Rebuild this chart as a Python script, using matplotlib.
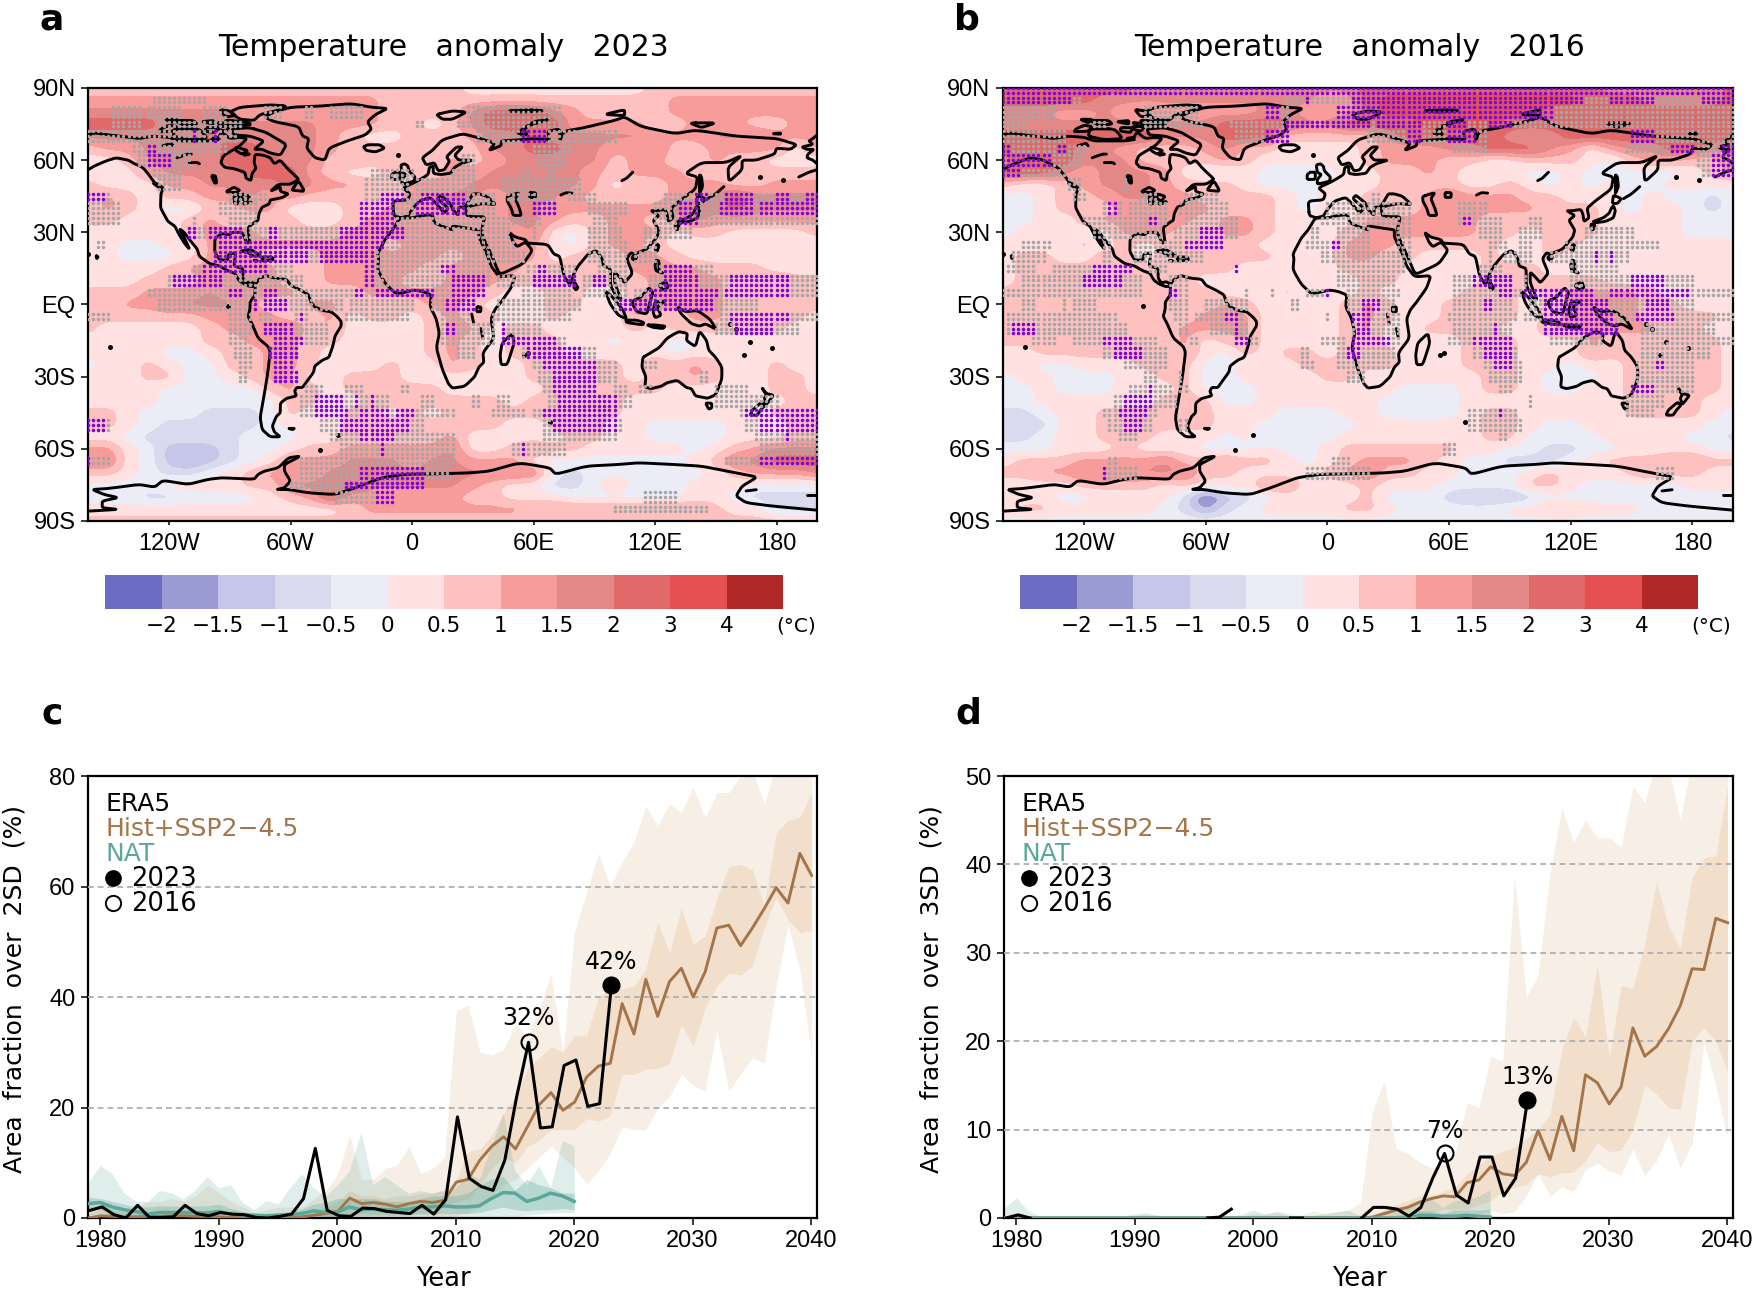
import numpy as np
import matplotlib
matplotlib.use("Agg")
import matplotlib.pyplot as plt

W, H = 1752, 1294
nan = float("nan")
SANS = ["Liberation Sans", "DejaVu Sans"]
WIDE = ["DejaVu Sans"]

# ---------- colour scale ----------
CB_COLORS = ["#6C6CC3", "#9B9BD4", "#C6C6E8", "#DADAEE", "#ECECF7", "#FFE1E1",
             "#FFC0C0", "#F79B9B", "#E48787", "#E26969", "#E65050", "#B22828"]
CB_LEVELS = [-2, -1.5, -1, -0.5, 0, 0.5, 1, 1.5, 2, 3, 4]
CB_LABELS = ["\u22122", "\u22121.5", "\u22121", "\u22120.5", "0", "0.5", "1", "1.5", "2", "3", "4"]
CODE_VALUES = dict(a=-2.3, b=-1.75, c=-1.25, d=-0.75, e=-0.22, f=0.2, g=0.7,
                   h=1.15, i=1.62, j=2.35, k=3.5, l=4.5)

# ---------- anomaly fields: classes read on a 10 deg lon x 5 deg lat grid, 90N to 90S ----------
A_WEST = ["ggggggggggggggggggg", "hhhhhhhhhhhhhhhgggg", "iiiiiiiihhhhhhhgggg", "jjjjiiiiiiiihhhggfg",
          "iiiiiijiiiiihgffggg", "ghhiiiijjiiihgggggg", "ffgiiiijjjiighggggh", "fffhiiiijjjhgffgggh",
          "gfffhhiiiijihhgghhh", "ghgfgghhihhggggghii", "ghgfeegghhfffgghhhi", "ggfffghggggffghhhhh",
          "fffffghhhgggghhhihh", "ffeeffhhhhhhhhhghhh", "ffeeefhhhggghihhhhg", "ffffghhhhhgghhhhhgh",
          "fffggghhhhgghhhhggh", "ggghhhihhhhggghhhhh", "gghhiiiihgghhgggghh", "gggggghhhhgghfggfgh",
          "gfffffghhhighffffgh", "ffffffgghhhggffffgh", "ffffeefgghhgfffffgh", "effgfeegghhgfffgffh",
          "fffggeefghhffgggfff", "ffffeeeeeghgfgggggf", "ffffeeeeeeggffggggg", "ggfeeedddegffggfgfg",
          "ggfedddddefffgggggg", "ffedddddeeeffgggggh", "hhfecccdeefgghhhhhi", "iifecbcdefhhhiiihii",
          "ggfeddefghhhiiiiiii", "eeeeffffggiiijiiiii", "eeeddeeeefghjhhhhhh", "fffffffffffffghhhhh",
          "ggggggggggggggggggg"]
A_EAST = ["gfffffffffggggggggg", "ggggggggggghhhhhhhh", "hijjjihgggghhhhhhhh", "hijjkjhhhhgghhhgghi",
          "hhiijiiiiihhhiiihhh", "ggiijjiihhigghhhhfh", "gghiiiiighhgghggfff", "hhiiiiihghhhggggggg",
          "iiiiiiihfgghhhgghhh", "iihiiihgggghhijiiii", "hhhiihhhhhhijijiiii", "hhhiihgghhghihhhhhh",
          "ghihifeghhhfggffffg", "hhhhhfeghhgffffffff", "hhhhhfggghhgfffffff", "hhihggggghhhhgggfff",
          "hhhggggggghhhhgghgg", "hhgffggffghhhhggggg", "hgfffggffhhhhhggggg", "hggffgfffhgghhggggf",
          "hhfggffffgfggggggff", "hgfgggffeffeeffffff", "hgfgggfffffefffffff", "ggffgggggfhghgffgff",
          "ffffgggggfgghgffggf", "fffffggggggfffffggf", "gggfgggggffffffgfgg", "gggggggggfffffffggg",
          "fggffgggffeeeefffgg", "ffffffggffeeeefffgg", "fffghggfffffefghiii", "hhhhfeeeeeeefgiijjj",
          "iiiiiedeeeeeefghhhi", "hhgffddegeeefffeeee", "gggfffeeeeeeffedddd", "hhhhhhhhhhhhhgffddd",
          "ggggggggggggggggggg"]
B_WEST = ["jjjjjjjiiiiiiiiiiij", "jjjjjiiiiiiiiiiihhj", "iiihhihghhhhhiihhhj", "iiiiiiiiiiijjjjiijj",
          "jjjjjjjjiiijjjggggg", "jjjjiihggghiggffffg", "ijjjiiiggggh" + "gfffffg", "jjjihiiihfeefedeeff",
          "gffghiiihgggfeeefff", "eefgghiihhggggfeffg", "eefggghhhhhgggfeffg", "eeffghhhhhghhgffffh",
          "efffffhhhgghhgfffgh", "ffffgfgfgggggffffhh", "fggffggfggggggfffhh", "fgggghggggggfffffgg",
          "fggggghgggffffffffg", "gggggggggggfffgfffg", "ggggggggghghgffffgh", "gggggggggghhhffffgh",
          "ggggggggghhhhffffgh", "ggggggggghfghffffgh", "ffggggggghfegfggfgg", "ffeefffgggeefffgggg",
          "effeeeffggeeffffggf", "eefeeefffgeeeffffff", "eeffffffgggeeffffff", "ddeffggggggfffeeeff",
          "dddffggggggffeeeeef", "ddeffgggfffefdeeeff", "eeefffgfffeeefeefgg", "fggghhhhigghggfefgh",
          "gghhiiiiiiggffffghi", "ffffggggfgfffhhfffg", "fffeeffffdacdeffffg", "fggfffffedbdeffffgg",
          "eeeeeeeeeeeeeeeeeee"]
B_EAST = ["jjjjjjjjjjjjiiiiiij", "kkkkkkkkkkkjjjiiiij", "kkkkkkkkkjjjjjjjjjj", "jjjkkkkjjjjjjjjjjjj",
          "iijjjjjihijjjjjjjjj", "ghhhiijjjihfhiijjii", "hhhhggffgggfeghhggi", "hgghgfffeefeeeeefgh",
          "gggggffgfefefeeffff", "ggghihhhggfffefeede", "ggghhhhhhgggfeffede", "hhhhihggggggffffeee",
          "hhhhhhggfgggffffeee", "hhgggggffggffffffff", "hggfffgffgfffffffff", "ghffffgggffffffffff",
          "hgffffghggggfffffff", "hffffgggfghhhhgffff", "hgffggggfghhhhggfff", "igffggggfghhhhggggf",
          "gffggggffhhhhhhggff", "hffffgggfffhggggggf", "igfffgggfffhggggggf", "hgfffgggffeffgggggf",
          "gfffffggfeeefgggggf", "ffeeefggfeeffgggggf", "feeeeffffffffggggff", "feeeefggfffffggggfe",
          "efffffggfeeffffffee", "efffffggeeeeffffeed", "gggggffeeddeeffffee", "hhhgfeedddefggghhgg",
          "gggffeeefgfffghggff", "ffffeeeeggfeeeeefff", "feeedcccdeeeeedeeee", "gfeeeeeffggfffeeeee",
          "eeeeeeeeeeeeeeeeeee"]

# ---------- stippling: (latitude band centre, lon from, lon to) ----------
GREY_A = [(85,-129,-101),
 (80,-148,-134),(80,-130,-114),(80,-104,-92),(80,-74,-64),(80,-53,-49),(80,-40,-23),(80,27,74),
 (75,-148,-135),(75,-125,-83),(75,1,5),(75,22,74),
 (70,-160,-86),(70,32,100),(65,-139,-91),(65,58,78),
 (60,-135,-109),(60,25,31),(60,61,76),(55,-129,-115),(55,-20,0),(55,20,30),(55,53,58),(55,66,71),
 (50,-125,-115),(50,-23,-2),(50,1,32),(50,45,83),
 (45,-160,-148),(45,-92,-71),(45,-23,41),(45,46,70),(45,76,90),(45,125,200),
 (40,-160,-143),(40,-96,-76),(40,-23,41),(40,59,71),(40,76,77),(40,87,107),(40,119,200),
 (35,-160,-143),(35,-108,-106),(35,-92,-76),(35,-25,63),(35,89,102),(35,119,200),
 (30,-110,48),(30,60,61),(30,86,104),(30,115,139),
 (25,-155,-152),(25,-97,50),(25,86,106),(25,114,122),
 (20,-99,56),(20,86,106),(20,110,122),
 (15,-109,-58),(15,-23,38),(15,56,82),(15,92,107),(15,122,148),
 (10,-122,-55),(10,-23,38),(10,41,81),(10,84,107),(10,117,200),
 (5,-130,36),(5,55,78),(5,84,106),(5,109,200),
 (0,-125,-81),(0,-74,-35),(0,-30,0),(0,10,30),(0,41,83),(0,100,170),
 (-5,-160,-148),(-5,-92,-78),(-5,-76,-70),(-5,-58,-52),(-5,-33,-2),(-5,13,28),(-5,40,78),(-5,152,200),
 (-10,-92,-79),(-10,-73,-41),(-10,13,41),(-10,43,63),(-10,150,190),
 (-15,-92,-81),(-15,-68,-55),(-15,-53,-41),(-15,15,41),(-15,43,76),
 (-20,-89,-78),(-20,-70,-56),(-20,22,32),(-20,55,90),
 (-25,-87,-79),(-25,-69,-58),(-25,60,102),(-25,115,122),
 (-30,-86,-81),(-30,-68,-56),(-30,61,102),(-30,142,145),
 (-35,-53,-45),(-35,-33,-23),(-35,-7,-2),(-35,63,90),(-35,100,107),(-35,112,119),(-35,150,166),
 (-40,-55,-35),(-40,-33,-12),(-40,5,11),(-40,28,33),(-40,41,48),(-40,66,109),(-40,150,180),
 (-45,-55,20),(-45,40,56),(-45,58,102),(-45,162,200),
 (-50,-160,-150),(-50,-45,5),(-50,64,104),(-50,165,200),
 (-55,-41,20),(-55,64,100),(-55,168,200),
 (-60,-35,20),(-60,48,76),(-60,171,200),
 (-65,-160,-148),(-65,-56,20),(-65,155,200),
 (-70,-55,18),(-75,-60,5),(-80,-38,-15),(-80,114,132),(-85,100,145)]
PURPLE_A = [(70,-108,-106),(70,-98,-96),(70,55,66),(65,-131,-126),(60,-132,-120),
 (45,-160,-152),(45,-17,-4),(45,3,27),(45,140,147),(45,153,168),(45,178,186),(45,193,200),
 (40,-25,-9),(40,1,27),(40,59,71),(40,132,142),(40,152,168),(40,171,200),
 (35,-25,-10),(35,132,140),
 (30,-110,-107),(30,-101,-84),(30,-72,-66),(30,-35,-5),
 (25,-97,-13),(20,-98,-52),(20,-46,-18),(15,-104,-71),(15,-23,-18),(15,13,20),(15,61,65),(15,125,139),
 (10,-119,-94),(10,-23,-19),(10,20,35),(10,60,80),(10,90,95),(10,125,140),(10,157,185),
 (5,-90,-83),(5,-74,-66),(5,-28,-25),(5,-18,11),(5,20,35),(5,117,150),(5,153,185),
 (0,-79,-77),(0,-74,-61),(0,16,30),(0,102,122),(0,125,148),
 (-5,-56,-53),(-5,157,187),(-10,-73,-60),(-10,16,20),(-10,43,45),(-10,160,178),
 (-15,-68,-55),(-15,43,70),(-20,-70,-56),(-20,56,84),(-25,-69,-58),(-25,65,90),
 (-30,-68,-56),(-30,69,92),(-35,70,90),
 (-40,-48,-33),(-40,-28,-26),(-40,-21,-19),(-40,72,100),
 (-45,-48,-32),(-45,-27,-12),(-45,-8,0),(-45,63,100),(-45,165,200),
 (-50,-160,-152),(-50,-37,-2),(-50,68,100),(-50,172,200),(-55,-25,-8),(-55,183,187),
 (-60,-17,-14),(-60,55,56),(-65,-160,-158),(-65,171,200),
 (-70,-25,5),(-75,-33,5),(-80,-18,-10)]
GREY_B = [(85,-160,-122),(85,-20,200),
 (80,-160,-134),(80,-91,-63),(80,-32,-18),(80,5,200),
 (75,-160,-150),(75,-115,-110),(75,-91,-61),(75,-48,200),
 (70,-160,-130),(70,-45,-18),(70,20,79),(70,148,200),
 (65,-160,-120),(65,61,79),(65,147,200),(60,-160,-122),(60,181,200),(55,-160,-129),(55,185,200),
 (50,-129,-122),(50,-102,-99),(45,-125,-120),(45,-94,-83),(45,-71,-55),(45,22,26),
 (40,-112,-102),(40,-99,-78),(40,-73,-48),(40,0,40),(40,64,79),
 (35,-120,-79),(35,-71,-45),(35,-4,40),(35,63,86),(35,99,107),
 (30,-115,-81),(30,-76,-43),(30,-9,-3),(30,5,20),(30,33,41),(30,74,87),(30,94,106),(30,127,152),
 (25,-150,-137),(25,-112,-106),(25,-97,-51),(25,-12,20),(25,35,41),(25,79,89),(25,94,102),(25,117,163),
 (20,-157,-140),(20,-112,-107),(20,-96,-61),(20,-4,20),(20,20,40),(20,78,80),(20,86,102),(20,109,148),
 (15,-158,-143),(15,-135,-100),(15,-89,-78),(15,5,38),(15,74,86),(15,119,143),
 (10,-150,-91),(10,-78,-70),(10,5,33),(10,61,92),(10,96,98),(10,119,180),
 (5,-160,-92),(5,-78,-68),(5,-41,-39),(5,-28,-26),(5,-10,-2),(5,10,35),(5,61,200),
 (0,-150,-143),(0,-132,-130),(0,-125,-115),(0,-79,-68),(0,-61,-38),(0,-18,-13),(0,10,33),(0,61,92),(0,100,165),(0,165,180),
 (-5,-158,-104),(-5,-76,-70),(-5,-66,-41),(-5,0,2),(-5,11,35),(-5,60,94),(-5,96,200),
 (-10,-158,-99),(-10,-73,-68),(-10,-58,-38),(-10,11,36),(-10,61,91),(-10,107,143),(-10,155,190),
 (-15,-147,-134),(-15,-127,-84),(-15,-69,-63),(-15,-46,-33),(-15,-4,9),(-15,11,36),(-15,60,92),(-15,110,135),(-15,155,200),
 (-20,-110,-79),(-20,-13,-8),(-20,5,18),(-20,20,33),(-20,71,94),(-20,153,188),
 (-25,-102,-78),(-25,-13,-7),(-25,5,18),(-25,20,30),(-25,76,96),(-25,152,181),
 (-30,-92,-83),(-30,-73,-71),(-30,8,18),(-30,79,97),(-30,152,181),
 (-35,-99,-76),(-35,-73,-70),(-35,84,92),(-35,150,181),
 (-40,-107,-74),(-40,147,166),(-40,99,100),(-45,-111,-84),(-45,69,94),(-45,147,160),
 (-50,-109,-86),(-50,-73,-68),(-50,69,96),(-55,-104,-93),(-55,85,88),
 (-60,57,63),(-65,-109,-103),(-65,1,10),(-70,-112,-94),(-70,-12,20),(-70,161,170)]
PURPLE_B = [(90,-160,200),(85,-160,-127),(85,-12,-8),(85,12,20),(85,20,127),(85,139,160),(85,185,200),
 (80,-32,-24),(80,5,110),(75,-22,20),(75,23,45),(75,58,68),(75,78,90),
 (70,-30,-18),(70,40,45),(70,58,73),(70,150,160),(65,-160,-157),(65,-134,-130),(65,170,181),(65,195,200),
 (60,-160,-137),(60,190,200),(55,-160,-152),(55,188,200),
 (40,-108,-104),(35,-89,-83),(35,66,70),(30,-63,-51),(25,-70,-51),(25,2,5),(20,132,134),(20,138,141),
 (15,-115,-97),(15,-45,-43),(10,-120,-102),(10,71,91),(10,148,166),(5,-78,-74),(5,0,2),(5,84,91),(5,96,132),(5,139,178),
 (0,16,25),(0,76,82),(0,106,138),(0,157,168),
 (-5,-50,-45),(-5,12,20),(-5,106,142),(-5,152,171),
 (-10,-157,-144),(-10,-46,-44),(-10,15,20),(-10,82,84),(-10,107,143),
 (-15,-112,-96),(-15,-46,-40),(-15,12,20),(-15,22,30),(-15,71,91),(-20,-106,-91),(-20,8,16),(-20,76,92),
 (-25,82,90),(-25,161,165),(-35,-88,-86),(-35,150,160),(-40,-101,-86),(-45,-104,-89),(-45,85,87),(-50,-101,-91),(-70,-110,-108)]

# ---------- coastlines, lon/lat, map runs 160W to 200E ----------
N_AMERICA = [(-160,70.5),(-156.5,71.3),(-150,70.5),(-141,69.7),(-135,69),(-128,70),(-120,69.5),(-115,68),(-108,68),(-100,68),(-96,68.5),(-94,71.8),(-90,69),(-85,69.5),(-81.5,69),(-85,66),(-87,65),(-93,62),(-94.5,59),(-92.5,57),(-88,56.5),(-82.5,55),(-82,52.5),(-79.5,51.5),(-79,54.5),(-77,56.5),(-78,59),(-77.5,62.5),(-73,62),(-70,61),(-68,58.5),(-65,60),(-61.5,56.5),(-57,53),(-56,52),(-60,50),(-66,50),(-70,47),(-65,49),(-65,47),(-61,46),(-64,44.5),(-66.5,44),(-70,43.5),(-70.5,41.8),(-74,40.5),(-75.5,38),(-76,35),(-78,34),(-81,32),(-80.5,28),(-80,26),(-81.5,25.5),(-82.7,28),(-84,30),(-89,30),(-90,29),(-94,29.5),(-97.3,27.5),(-97.5,22),(-95,18.5),(-91,18.5),(-90.5,21),(-87,21.5),(-88,16),(-83.5,15),(-83.5,11),(-82,9),(-79.5,9.5),(-77.5,8.5),(-78,7.5),(-80,7.5),(-83,8.5),(-85.5,10),(-87.5,13),(-91,14),(-95,16),(-100,17),(-105,20),(-106,23),(-109,26),(-112.5,30),(-114.8,31.5),(-112,27),(-109.8,23),(-112,25),(-115,29),(-117,32.5),(-120.5,34.5),(-122.5,37.5),(-124.2,40.3),(-124,46),(-122.7,48.5),(-127,50.5),(-130,54),(-133,57),(-137,58.5),(-140,60),(-146,61),(-150,60),(-153,59),(-157,57.5),(-160,56)]
ALASKA_W = [(200,70.5),(198,69),(196,68),(198,66.5),(192.5,65.5),(195,64.5),(198.5,64.5),(195.5,62.5),(195,61),(198,60),(200,58.5)]
ALASKA_PEN = [(200,56),(196,55),(191,53)]
GREENLAND = [(-73,78),(-68,80),(-60,82),(-45,82.5),(-30,83.5),(-20,82),(-12,81.5),(-18,79),(-22,76),(-20,73),(-23,70.5),(-32,68),(-41,65),(-43,60),(-48,61),(-52,65),(-51,69),(-54,70),(-56,74),(-68,76),(-73,78)]
BAFFIN = [(-80,73.5),(-72,71.5),(-68,69.5),(-62,66.5),(-65,62),(-70,63),(-74,64.5),(-78,64.5),(-73,68),(-80,70),(-88,70.5),(-89,73),(-80,73.5)]
VICTORIA = [(-105,73),(-117,73),(-118,70),(-110,68.5),(-101,69),(-105,73)]
BANKS = [(-120,74.5),(-124,73),(-125,71.8),(-118,72),(-116,74),(-120,74.5)]
ELLESMERE = [(-62,82.5),(-70,83),(-85,82),(-90,80),(-85,77),(-78,76.5),(-75,79),(-65,81),(-62,82.5)]
DEVON = [(-92,76.8),(-80,75.5),(-80,74.5),(-92,74.5),(-92,76.8)]
AXEL = [(-95,81),(-90,80.5),(-87,78.5),(-92,78),(-95,81)]
MELVILLE = [(-117,76.5),(-108,76.5),(-106,75),(-113,74.5),(-117,76.5)]
PRINCE = [(-102,73.5),(-96,73.5),(-97,71.5),(-102,72),(-102,73.5)]
SOMERSET = [(-96,74),(-90,74),(-92,72),(-96,73),(-96,74)]
KING_WILLIAM = [(-99,69),(-96,69.5),(-95,68.5),(-98,68.5),(-99,69)]
PATRICK = [(-122,77),(-116,77),(-118,75.5),(-122,77)]
BATHURST = [(-104,76),(-98,76.5),(-98,75),(-104,76)]
CORNWALLIS = [(-96,75.5),(-93,75.5),(-94,74.8),(-96,75.5)]
COATS = [(-83,63),(-80,62.5),(-83,62),(-83,63)]
SOUTHAMPTON = [(-87,65.5),(-81,64),(-84,62.5),(-87,64),(-87,65.5)]
NEWFOUNDLAND = [(-59,48),(-56,51.5),(-53,47),(-59,47.5),(-59,48)]
VANCOUVER = [(-128,50.5),(-125,50),(-123.5,48.5),(-125,48.7),(-128,50.5)]
CUBA = [(-85,22),(-80,23),(-74.5,20.3),(-78,20),(-82,22),(-85,22)]
HISPANIOLA = [(-74,19.8),(-69,19.7),(-68.5,18.5),(-74,18),(-74,19.8)]
JAMAICA = [(-78,18.4),(-76.3,18.2),(-77,17.8),(-78,18.4)]
HAWAII = [(-156,20.3),(-155,19.8),(-155.7,19),(-156,20.3)]
S_AMERICA = [(-77.5,8.5),(-75,11),(-72,12),(-68,11),(-62,10.5),(-60,8),(-55,6),(-51,4),(-50,1),(-48,-1),(-44,-2.5),(-40,-3),(-37,-5),(-35,-7),(-35,-9),(-38,-13),(-39,-17),(-41,-22),(-44,-23),(-48,-25.5),(-48.5,-28),(-52,-32),(-54,-34.5),(-57,-34.5),(-58,-36),(-57,-38),(-62,-39),(-65,-41),(-65,-45),(-67,-46.5),(-69,-50.5),(-68,-53),(-65,-55),(-70,-55),(-74,-52),(-75,-47),(-73.5,-40),(-71.5,-30),(-70,-20),(-71,-17.5),(-76,-14),(-79,-8),(-81,-5),(-80,-2),(-80,1),(-77.5,4),(-77.5,8.5)]
AFRICA = [(-6,36),(0,36),(5,37),(10,37.3),(11,34),(15,32.5),(20,31),(20,32.7),(25,32),(31,31.3),(33,31),(33,28),(37,21),(39,16),(43,11.5),(51,12),(49,7),(44,1),(41,-2),(39,-6),(40.5,-14),(35,-20),(35.5,-24),(33,-26),(31,-30),(26,-34),(20,-34.8),(18,-33),(15,-27),(12,-18),(13.5,-12),(12,-6),(9,-1),(9.5,4),(5,5.5),(1,6),(-4,5),(-8,4.5),(-13,8.5),(-17,14.5),(-16.5,19),(-17,21),(-13,27.5),(-9.5,31),(-6,36)]
MADAGASCAR = [(49.5,-12),(50.5,-16),(47,-25),(44,-25),(43.5,-21),(44.5,-16),(49.5,-12)]
EURASIA = [(-9,37),(-9.5,43),(-2,43.5),(-1,46),(-4.5,48.5),(2,51),(8,54),(8.5,57),(10.5,57.5),(10.5,54.5),(14,54),(19,54.5),(21,57),(24,58.5),(30,60),(23,60),(21,62),(25,65.5),(22,65.5),(17,61.5),(18.5,59.5),(16,56),(13,55.5),(11,59),(7,58),(5,61),(10,64),(15,68.5),(25,71),(32,69.5),(41,67),(38,64),(44,66),(44,68),(54,68.5),(60,69),(68,68.5),(67,72),(73,73),(73,68),(75,72),(85,73.5),(100,76.5),(105,78),(113,74),(130,71),(140,72.5),(160,70),(170,69.5),(180,69),(190,66.5),(187,64.5),(180,65),(179,62.5),(170,60),(163,60),(163,56),(156.5,51),(156,57),(163,62),(155,59),(143,59),(135,54.5),(141,53),(140,48),(132,43),(128,40),(129,36),(126.5,34.5),(126,37.5),(125,39.5),(121,39),(118,39),(122,37),(119,35),(122,31),(121,28),(116,23),(110,21),(108,21.5),(106,19),(109,13),(105,9),(103,11),(100,13.5),(100,9),(103.5,2),(101,3),(98,8),(98,15),(94.5,16),(94,19),(91,22.5),(87,21),(82,16),(80,13),(78,8),(75,12),(73,20),(70,21),(67,25),(57,25.5),(56,27),(51,28),(48,30),(50,26),(52,24),(56,26),(59.5,22.5),(55,17),(45,13),(43,13),(39,21),(35,28),(34.5,31.5),(36,36.5),(30,36.5),(27,37),(26.5,40),(29,41),(35,42),(41.5,41.5),(37,45),(33,46),(30,46),(28,43),(26,40.5),(23,40.5),(23,37),(20,39.5),(19,42),(14,45.5),(12.5,44),(18,40),(16,38),(12,42),(9,44.5),(3.5,43),(0,39.5),(-2,36.8),(-5.5,36),(-9,37)]
UK = [(-5,50),(1,51.2),(1.5,53),(-1.5,55.5),(-2,57.5),(-3.5,58.5),(-5.5,58),(-5,55),(-3,54),(-5,52),(-5,50)]
IRELAND = [(-10,52),(-6,52),(-6,55),(-8.5,55),(-10,54),(-10,52)]
ICELAND = [(-24,65.5),(-22,66.4),(-16,66.4),(-13.5,65),(-18,63.4),(-22.5,64),(-24,65.5)]
SVALBARD = [(12,79),(20,80.5),(27,80),(20,77),(15,77),(12,79)]
FRANZ_JOSEF = [(47,80.5),(60,81),(65,80.5),(55,80),(47,80.5)]
NOVAYA = [(52,71),(56,74),(68,77),(60,76),(55,72.5),(57,70.5),(52,71)]
SEVERNAYA = [(95,79),(105,81),(105,78.5),(95,79)]
NEW_SIBERIA = [(137,75.5),(150,75.5),(143,73.5),(137,75.5)]
WRANGEL = [(178,71),(182,71.3),(182,70.8),(178,71)]
SUMATRA = [(95.5,5.5),(98,4),(104,-2),(106,-6),(102,-4.5),(98,0),(95.5,5.5)]
JAVA = [(105.5,-6.5),(111,-6.5),(114.5,-7.5),(114,-8.5),(106,-7.5),(105.5,-6.5)]
BORNEO = [(109,1.5),(113,3),(117,7),(119,5),(117.5,1),(116,-4),(111,-3),(109,0),(109,1.5)]
SULAWESI = [(120,1),(125,1.5),(121,-1),(123,-4.5),(120,-5.5),(119,-3),(120,1)]
NEW_GUINEA = [(131,-1),(135,-3),(141,-2.5),(147,-6),(150.5,-10.5),(145,-8),(142,-9),(138,-8),(133,-4),(131,-1)]
LUZON = [(120.5,18.5),(122,18),(122,14),(124,13),(120.5,14),(120,16),(120.5,18.5)]
MINDANAO = [(122,8),(125.5,9.5),(126.5,7),(124,6),(122,8)]
SUNDA = [(116,-8.5),(120,-8.5),(125,-9),(124,-10),(119,-9.5),(116,-8.5)]
TAIWAN = [(121,25),(122,24.5),(121,22),(120,23),(121,25)]
HAINAN = [(109,20),(111,19.7),(110,18.3),(108.7,19),(109,20)]
CEYLON = [(80,9.5),(82,7),(81,6),(80,7),(80,9.5)]
HONSHU = [(141,41),(142,39),(141,36),(137,34.5),(132,34),(131,34.5),(136,36),(139,38),(140,40),(141,41)]
HOKKAIDO = [(141,45.5),(145,44),(143,42),(140.5,42),(141,45.5)]
KYUSHU = [(130,33.5),(132,33),(131,31),(130,31.5),(130,33.5)]
SAKHALIN = [(142,54),(143,53),(143.5,49),(142,46),(142,49),(142,54)]
KURILS = [(146,44),(150,46),(154,49)]
AUSTRALIA = [(114,-22),(117,-20.5),(122,-18),(126,-14),(130,-12),(132,-11.3),(136,-12),(135.5,-15),(140,-17.5),(142,-11),(145.5,-15),(146.5,-19),(150,-22),(153,-26),(153,-31),(150,-37.5),(146,-39),(143,-38.5),(140,-38),(138,-35),(135.5,-34.5),(131,-31.5),(126,-32.5),(123,-34),(118,-35),(115,-34.3),(115.5,-30),(113.5,-26),(114,-22)]
TASMANIA = [(145,-41),(148,-41),(148,-43),(146.5,-43.5),(145,-41)]
NZ_NORTH = [(172.7,-34.5),(175,-37),(178.5,-37.7),(176.5,-40),(175,-41.5),(174,-39),(175,-37.5),(172.7,-34.5)]
NZ_SOUTH = [(172.5,-40.7),(174.5,-41.7),(172,-44),(170.5,-46),(167,-46),(168,-44),(172.5,-40.7)]
FALKLANDS = [(-61,-51.5),(-58,-51.5),(-59,-52),(-61,-51.5)]
ANT_WEST = [(-160,-85.9),(-145,-85.2),(-153,-84.5),(-153,-81.7),(-145,-80.3),(-152,-79),(-158,-76.9),(-150,-76.5),(-135,-74.8),(-127,-75.9),(-123,-73.1),(-110.6,-74.8),(-100.7,-72.7),(-94,-72),(-78,-72.7),(-76,-70.6),(-73,-69.3),(-66,-67.9),(-61,-63.7),(-55,-63),(-63,-66.5),(-63,-69.3),(-60,-73.4),(-63,-76.2),(-67,-76.9),(-61,-76.9),(-51,-78.3),(-38,-79),(-28,-76.2),(-15,-72),(-3.6,-70.6),(20,-70.2)]
ANT_EAST = [(20,-70.2),(28,-70),(38,-69.3),(53,-65.8),(68,-67.9),(71,-70.6),(86,-67.2),(102,-66.5),(112,-65.8),(129,-66.5),(143,-67.2),(160,-70),(170.6,-71.7),(163,-75.5),(160,-79.6),(165,-82.4),(178,-83.8),(200,-85.5)]
ANT_BITS = [(195,-79),(200,-79)]
ROSS_IS = [(165,-77.5),(170,-77)]
COASTS = [N_AMERICA, ALASKA_W, ALASKA_PEN, GREENLAND, BAFFIN, VICTORIA, BANKS, ELLESMERE, DEVON, AXEL, MELVILLE,
          PRINCE, SOMERSET, KING_WILLIAM, PATRICK, BATHURST, CORNWALLIS, COATS, SOUTHAMPTON, NEWFOUNDLAND, VANCOUVER,
          CUBA, HISPANIOLA, JAMAICA, HAWAII, S_AMERICA, AFRICA,
          MADAGASCAR, EURASIA, UK, IRELAND, ICELAND, SVALBARD, FRANZ_JOSEF, NOVAYA, SEVERNAYA, NEW_SIBERIA, WRANGEL,
          SUMATRA, JAVA, BORNEO, SULAWESI, NEW_GUINEA, LUZON, MINDANAO, SUNDA, TAIWAN, HAINAN, CEYLON, HONSHU,
          HOKKAIDO, KYUSHU, SAKHALIN, KURILS, AUSTRALIA, TASMANIA, NZ_NORTH, NZ_SOUTH, FALKLANDS, ANT_WEST, ANT_EAST,
          ANT_BITS, ROSS_IS]
L_SUPERIOR = [(-92,46.8),(-88,48.8),(-85,47.5),(-87,46.5),(-92,46.8)]
L_MICHIGAN = [(-87.5,41.7),(-88,45),(-85,46),(-86,42),(-87.5,41.7)]
L_HURON = [(-84,46),(-80,45),(-82,43),(-84,44),(-84,46)]
L_ERIE = [(-83,41.7),(-79,42.8),(-83,42.3),(-83,41.7)]
L_WINNIPEG = [(-99,53.5),(-97,53.5),(-96.5,50.5),(-97.5,50.5),(-99,53.5)]
L_ATHABASCA = [(-110,59),(-106,59),(-105,58.5)]
L_SLAVE = [(-116,61),(-111,62.5),(-109,62.5)]
L_BEAR = [(-123,66),(-119,67),(-118,66)]
CASPIAN = [(47,45),(53,46.5),(51,44),(53,40),(54,37),(50,37),(49,40),(47,43),(47,45)]
ARAL = [(58,46.5),(61,46.5),(61,44.5),(58,44.5),(58,46.5)]
BALKHASH = [(73.5,45.5),(76,46.5),(79,46.3)]
BAIKAL = [(103.7,51.5),(106,52.5),(109,55)]
L_VICTORIA = [(32,-1),(34,-1),(34,-3),(32,-3),(32,-1)]
L_MALAWI = [(34,-10),(35,-14)]
L_TANGANYIKA = [(29.5,-4),(30.5,-8)]
LAKES = [L_SUPERIOR, L_MICHIGAN, L_HURON, L_ERIE, L_WINNIPEG, L_ATHABASCA, L_SLAVE, L_BEAR, CASPIAN, ARAL, BALKHASH,
         BAIKAL, L_VICTORIA, L_MALAWI, L_TANGANYIKA]
SMALL_ISLANDS = [(-91,-0.7),(-149,-17.6),(-36.5,-54.4),(-45.6,-60.5),(68,-48.7),(55.4,-21),(57.5,-20),(164,-21),(178,-18),
                 (157,-8),(160,-10),(167,-15.5),(-7,62),(172,53),(183,51.6),(-160,21)]

# ---------- time series ----------
YEARS = np.arange(1979, 2041)
YEARS_NAT = np.arange(1979, 2021)
YEARS_ERA = np.arange(1979, 2024)
SHIFT_ERA, SHIFT_HIST, SHIFT_NAT = 0.15, 0.05, 0.0

ERA5_C = [1.4] + [2.0,.6,0,2.3,.1,.1,.2,2.3,.8,.4] + [1,.7,.6,.1,0,.3,.7,3.5,12.6,1.4] + \
         [.4,.3,1.8,1.7,1.2,1,.8,2.3,.7,3.3] + [18.3,7.2,5.7,5,10.5,22,31.8,16.3,16.5,27.6] + [28.6,20.2,20.7,42.2]
HIST_C = [0] + [.4,.3,.2,.2,.3,.3,.4,.4,.3,.3] + [.2,.1,.1,0,.1,.1,.1,.2,.5,.8] + \
         [1.2,3.6,2.6,2.8,2.5,2.0,2.6,3.0,2.8,3.2] + [6.5,7,10.5,13,14.7,12.5,16.5,20.5,22.7,19.5] + \
         [21,25.5,27.5,28,38.8,33.3,43.2,36.5,42.8,45.2] + [40,44.5,52.5,53,49.3,52.5,56,59.8,57,66] + [62]
HIST_C_HI = [2] + [2.5,2,1.5,2,3,3,3.5,3,4,6] + [4.5,3,2,1,1.5,2,2,2,3.5,5] + [8,15,7,7,9,9.5,13,8,9,11] + \
            [37.5,38.5,30,29.5,30.5,35,33,38,44,30] + [52,59,66,60,64.5,68,74.5,71,75,73.5] + \
            [78,72.5,77,77,80,81,75,82,82,83] + [84]
HIST_C_Q3 = [1] + [1.5,1.2,1,1,1,1,1.2,1.2,1.2,1.5] + [1,.8,.5,.3,.5,.5,.5,.7,1.5,2] + [3,5,4,4,3.5,4,4,4.5,4.5,5] + \
            [7,12,12.5,15,19,22,27,29,31,30] + [33,33,40,41.5,41.5,42,45,53.5,48,56] + \
            [49.5,51,57.8,63.6,64,63,56.5,69.7,72,72.5] + [77]
HIST_C_Q1 = [0] + [.1,0,0,0,0,0,0,0,.1,.1] + [0,0,0,0,0,0,0,0,0,.1] + [.3,.8,.8,.8,.8,.8,.8,1,1,2] + \
            [3,3.5,6,9,11,10,13,14,16,16] + [16,18,17.5,18.5,26,26,27,27,28,35] + \
            [31,38,42,44.3,44,45.6,52.7,58,54,51.7] + [52]
HIST_C_LO = [0] + [0,0,0,0,0,0,0,0,0,0] + [0,0,0,0,0,0,0,0,0,0] + [0,0,0,0,0,0,0,0,0,0] + \
            [.5,1,2,4,6,7,9,11,13,11] + [9,6.2,8.5,11.7,16.5,16,16,19.7,22,26] + \
            [24,23,34,23,26,29,28,42,53,45] + [29]
NAT_C = [2.6] + [2.8,2,1.5,1.2,.7,1,1,1,1,.9] + [1.2,.7,.6,.5,.4,.5,.6,.8,1.3,1] + \
        [1,2,1.5,1.6,1.5,1.4,1.6,2,2,2.2] + [2,2,2.2,3.5,4.6,4.5,3,3.6,4.5,4] + [3]
NAT_C_HI = [6.5] + [9.5,8,4.5,3,3,5,4.5,3.5,5,7.5] + [5.5,6,2.8,1.5,3.2,2.5,5.5,8,5.5,4] + \
           [6,8.5,15.5,6,7.5,6,4.5,5,4.5,5] + [5.5,8,7,13,19,8.5,6,9.5,5.5,14] + [13]
NAT_C_Q3 = [3.8] + [3.5,3,2.5,2,2,2.2,2.2,2,2.2,2.2] + [2.5,1.8,1.2,.8,.8,1,1.2,1.6,2.5,2.8] + \
           [3.5,3.5,3.5,3.5,3,3,3,3.5,4,4] + [4,4.5,6,7,7.5,5,7,6,5.5,4.5] + [4.5]
NAT_C_Q1 = [1.5] + [1.5,1,.5,.4,.2,.4,.4,.3,.4,.3] + [.5,.2,.1,.1,.1,.1,.1,.2,.4,.3] + \
           [.3,.6,.4,.5,.5,.5,.5,.7,.7,.8] + [.8,.8,1,1.5,2,1.5,1.3,1.5,1.5,1.7] + [1.5]
NAT_C_LO = [.3] + [.2,.1,0,0,0,0,0,0,0,0] + [0,0,0,0,0,0,0,0,0,0] + [0,0,0,0,0,0,0,0,0,0] + \
           [0,.1,.1,.2,.3,.3,.5,.7,.9,1] + [1]

ERA5_D = [0,.35,0] + [nan]*14 + [0,.1,1.0] + [nan]*4 + [0,0] + [nan]*4 + \
         [0,1.2,1.2,1,.2,1.2,4.5,7.3,2.6,1.7,6.9,6.9,2.5,4.5,13.3]
HIST_D = [0]*31 + [.1,.5,.9,1.2,1.8,2.2,2.5,2.4,4,4.3] + [5.8,5,4.8,6.3,9.9,6.6,11.5,7.6,16.2,15.3] + \
         [12.9,14.8,21.5,18.3,19.4,21.4,24,28.2,28.1,33.9] + [33.4]
HIST_D_HI = [.3] + [.6,.3,.1,.1,.1,.1,.1,.1,.1,.2] + [.3,.4,.3,.1,.1,.1,.2,.2,.2,.2] + [.5,.4,.8,.5,.3,.8,.5,.7,.9,1.7] + \
            [12,15.5,7.9,7.3,6.3,5.7,6.1,7.3,13,12.5] + [18.3,17.7,38.7,25,27.5,39,46.4,42.5,45,43] + \
            [43,42,48.8,47,52,51,45,52,53,53] + [53]
HIST_D_Q3 = [0]*31 + [.3,1,1.5,2,2.5,2.5,3,3.5,5,6] + [7,7.5,8,9,10,11.7,19,22.7,20.5,28.7] + \
            [18,26.3,26,31,38,33,30.5,38.5,40.7,41] + [49]
HIST_D_Q1 = [0]*31 + [0,0,.1,.2,.3,.5,1,1,1,1.5] + [2,3,3.5,3.8,5,4.7,5.1,5.2,6.5,8.5] + \
            [7.5,7.7,10,15,14,12.5,12.3,20,21.5,20] + [16.5]
HIST_D_LO = [0]*31 + [0,0,0,0,0,0,.1,.2,.3,.5] + [.8,.5,.7,2.5,5,2.5,3.5,3,5.5,6.2] + \
            [5.3,4.9,7.8,4.8,6.5,9.5,5.7,8.5,19.8,15] + [9]
NAT_D = [0]*35 + [.3,.3,.2,.2,.3,.2,.1]
NAT_D_HI = [1.1] + [2.3,.8,.2,.1,.1,.1,.1,.1,.1,.2] + [.5,.6,.3,.1,.1,.1,.1,.1,.2,.4] + \
           [.9,.5,.7,.3,.2,.3,.5,.7,.9,.3] + [.3,.5,.8,1.5,2,2.2,1.2,2,2,2.5] + [3.2]
NAT_D_Q3 = [.2] + [.5,.2,0,0,0,0,0,0,0,0] + [.1,.1,0,0,0,0,0,0,.1,.1] + \
           [.2,.1,.2,.1,0,.1,.1,.2,.2,.1] + [.1,.2,.3,.5,.8,.8,.5,.9,.9,.9] + [1]
NAT_D_Q1 = [0]*42
NAT_D_LO = [0]*42

BROWN, TEAL = "#A5754A", "#5BA89B"


def axes_px(x0, y0, x1, y1):
    return fig.add_axes([x0 / W, 1 - y1 / H, (x1 - x0) / W, (y1 - y0) / H])


def ftext(x, y, s, **kw):
    kw.setdefault("family", SANS)
    kw.setdefault("ha", "center")
    kw.setdefault("va", "center")
    fig.text(x / W, 1 - y / H, s, **kw)


def style_frame(ax):
    for s in ax.spines.values():
        s.set_linewidth(1.6)
    ax.tick_params(direction="out", length=5, width=1.1, labelsize=17, pad=4)
    for t in ax.get_xticklabels() + ax.get_yticklabels():
        t.set_family(SANS)


def corner_cut(line, passes=2, w=0.14):
    """Soften the corners of a coastline typed as a coarse polyline."""
    p = np.array(line, float)
    closed = len(p) > 3 and np.allclose(p[0], p[-1])
    for _ in range(passes):
        q = (1 - w) * p[:-1] + w * p[1:]
        r = w * p[:-1] + (1 - w) * p[1:]
        mid = np.empty((2 * len(q), 2))
        mid[0::2], mid[1::2] = q, r
        if closed:
            p = np.vstack([mid, mid[:1]])
        else:
            p = np.vstack([p[:1], mid, p[-1:]])
    return p


def build_field(west, east):
    rows = [w + e[1:] for w, e in zip(west, east)]
    grid = np.array([[CODE_VALUES[c] for c in r] for r in rows])[::-1]
    lon = np.arange(-160, 201, 10.0)
    lat = np.arange(-90, 91, 5.0)
    lon_f = np.arange(-160, 200.1, 2.5)
    lat_f = np.arange(-90, 90.1, 1.25)
    a = np.array([np.interp(lon_f, lon, row) for row in grid])
    b = np.array([np.interp(lat_f, lat, col) for col in a.T]).T
    pad = np.pad(b, 2, mode="edge")
    k = np.array([1, 2, 3, 2, 1], float)
    k = np.outer(k, k)
    k /= k.sum()
    out = np.zeros_like(b)
    for i in range(5):
        for j in range(5):
            out += k[i, j] * pad[i:i + b.shape[0], j:j + b.shape[1]]
    return lon_f, lat_f, out


def stipple(ax, spec, colour, z):
    lons = np.arange(-160, 200.1, 2.5)
    lats = np.arange(-90, 90.1, 2.0)
    xs, ys = [], []
    for la in lats:
        bands = [b for b in spec if abs(la - b[0]) <= 2.5 and la - b[0] < 2.5]
        for lo in lons:
            if any(b[1] <= lo <= b[2] for b in bands):
                xs.append(lo)
                ys.append(la)
    ax.scatter(xs, ys, s=6.2, c=colour, linewidths=0, zorder=z)


def draw_map(box, west, east, grey, purple, title, letter, letter_x):
    ax = axes_px(*box)
    lon, lat, z = build_field(west, east)
    levels = [-100] + CB_LEVELS + [100]
    ax.contourf(lon, lat, z, levels=levels, colors=CB_COLORS, zorder=1)
    for line in COASTS + LAKES:
        a = corner_cut(line)
        ax.plot(a[:, 0], a[:, 1], color="k", lw=2.1, zorder=4, solid_joinstyle="round", solid_capstyle="round")
    isl = np.array(SMALL_ISLANDS)
    ax.plot(isl[:, 0], isl[:, 1], "o", color="k", ms=3.6, zorder=4, mew=0)
    stipple(ax, grey, "#A6A6A6", 5)
    stipple(ax, purple, "#8200DC", 6)
    ax.set_xlim(-160, 200)
    ax.set_ylim(-90, 90)
    ax.set_xticks([-120, -60, 0, 60, 120, 180])
    ax.set_xticklabels(["120W", "60W", "0", "60E", "120E", "180"])
    ax.set_yticks([-90, -60, -30, 0, 30, 60, 90])
    ax.set_yticklabels(["90S", "60S", "30S", "EQ", "30N", "60N", "90N"])
    style_frame(ax)
    ax.tick_params(axis="x", pad=6, length=3)
    x0, x1 = box[0], box[2]
    ftext((x0 + x1) / 2 - 9, 47, title, family=WIDE, fontsize=21.5)
    ftext(letter_x, 20, letter, fontsize=26, family=WIDE, fontweight="bold")
    # colour bar
    cb_x0, cb_x1 = x0 + 17, x0 + 695
    cb = axes_px(cb_x0, 575, cb_x1, 609)
    cb.pcolormesh(np.arange(13), [0, 1], np.arange(12).reshape(1, 12), cmap=matplotlib.colors.ListedColormap(CB_COLORS), vmin=-0.5, vmax=11.5)
    cb.set_xlim(0, 12)
    cb.set_ylim(0, 1)
    cb.axis("off")
    step = (cb_x1 - cb_x0) / 12
    for i, lab in enumerate(CB_LABELS):
        ftext(cb_x0 + step * (i + 1), 626, lab, fontsize=15.5, family=WIDE)
    ftext(x0 + 708, 626, "(\u00b0C)", fontsize=14.5, family=WIDE)
    return ax


def draw_series(box, ymax, yticks, era, hist, hist_bands, nat, nat_bands, ylabel, ylab_x, letter, letter_x, notes, legend_x):
    ax = axes_px(*box)
    xh, xn, xe = YEARS + SHIFT_HIST, YEARS_NAT + SHIFT_NAT, YEARS_ERA + SHIFT_ERA
    for y in yticks[1:-1]:
        ax.axhline(y, color="#B0B0B0", lw=1.3, ls=(0, (3.2, 2.2)), zorder=3)
    ax.fill_between(xh, hist_bands[0], hist_bands[3], color="#B95F05", alpha=0.10, lw=0, zorder=1)
    ax.fill_between(xh, hist_bands[1], hist_bands[2], color="#CA741E", alpha=0.13, lw=0, zorder=1.1)
    ax.fill_between(xn, nat_bands[0], nat_bands[3], color="#50A091", alpha=0.18, lw=0, zorder=1.2)
    ax.fill_between(xn, nat_bands[1], nat_bands[2], color="#50A091", alpha=0.28, lw=0, zorder=1.3)
    ax.plot(xh, hist, color=BROWN, lw=2.1, zorder=4)
    ax.plot(xn, nat, color=TEAL, lw=2.5, zorder=4.1)
    ax.plot(xe, era, color="k", lw=2.2, zorder=5)
    i16, i23 = 2016 - 1979, 2023 - 1979
    ax.plot([xe[i16]], [era[i16]], "o", mfc="none", mec="k", mew=1.5, ms=11.5, zorder=6)
    ax.plot([xe[i23]], [era[i23]], "o", color="k", ms=12, zorder=6)
    for yr, yv, s in notes:
        ax.text(yr, yv, s, ha="center", va="center", fontsize=17, family=WIDE, zorder=7)
    ax.set_xlim(1978.96, 2040.5)
    ax.set_ylim(0, ymax)
    ax.set_xticks(np.arange(1980, 2041, 10))
    ax.set_yticks(yticks)
    style_frame(ax)
    ax.tick_params(axis="x", pad=3.5)
    x0, x1 = box[0], box[2]
    ftext((x0 + x1) / 2 - 9, 1279, "Year", fontsize=18.5, family=WIDE)
    ftext(ylab_x, 989, ylabel, rotation=90, fontsize=18, family=WIDE)
    ftext(letter_x, 713, letter, fontsize=26, family=WIDE, fontweight="bold")
    for y, s, c in [(804, "ERA5", "k"), (829, "Hist+SSP2\u22124.5", BROWN), (854, "NAT", TEAL)]:
        ftext(legend_x, y, s, color=c, ha="left", fontsize=18, family=WIDE)
    ftext(legend_x + 26, 879, "2023", ha="left", fontsize=18.5, family=WIDE)
    ftext(legend_x + 26, 904, "2016", ha="left", fontsize=18.5, family=WIDE)
    mk = fig.add_axes([0, 0, 1, 1], facecolor="none")
    mk.set_xlim(0, W)
    mk.set_ylim(H, 0)
    mk.axis("off")
    mk.plot([legend_x + 8], [878], "o", color="k", ms=11)
    mk.plot([legend_x + 8], [903], "o", mfc="none", mec="k", mew=1.4, ms=11)
    return ax


fig = plt.figure(figsize=(W / 100, H / 100), dpi=100, facecolor="white")

draw_map((88, 88, 817, 521), A_WEST, A_EAST, GREY_A, PURPLE_A, "Temperature   anomaly   2023", "a", 52)
draw_map((1003, 88, 1733, 521), B_WEST, B_EAST, GREY_B, PURPLE_B, "Temperature   anomaly   2016", "b", 967)

draw_series((88, 776, 817, 1218), 80, [0, 20, 40, 60, 80], ERA5_C, HIST_C,
            (HIST_C_LO, HIST_C_Q1, HIST_C_Q3, HIST_C_HI), NAT_C, (NAT_C_LO, NAT_C_Q1, NAT_C_Q3, NAT_C_HI),
            "Area  fraction  over  2SD  (%)", 15, "c", 52,
            [(2016.15, 36.2, "32%"), (2023.15, 46.4, "42%")], 105)
draw_series((1004, 776, 1733, 1218), 50, [0, 10, 20, 30, 40, 50], ERA5_D, HIST_D,
            (HIST_D_LO, HIST_D_Q1, HIST_D_Q3, HIST_D_HI), NAT_D, (NAT_D_LO, NAT_D_Q1, NAT_D_Q3, NAT_D_HI),
            "Area  fraction  over  3SD  (%)", 931, "d", 968,
            [(2016.15, 9.8, "7%"), (2023.15, 16, "13%")], 1021)

fig.savefig("out.png", dpi=100)
